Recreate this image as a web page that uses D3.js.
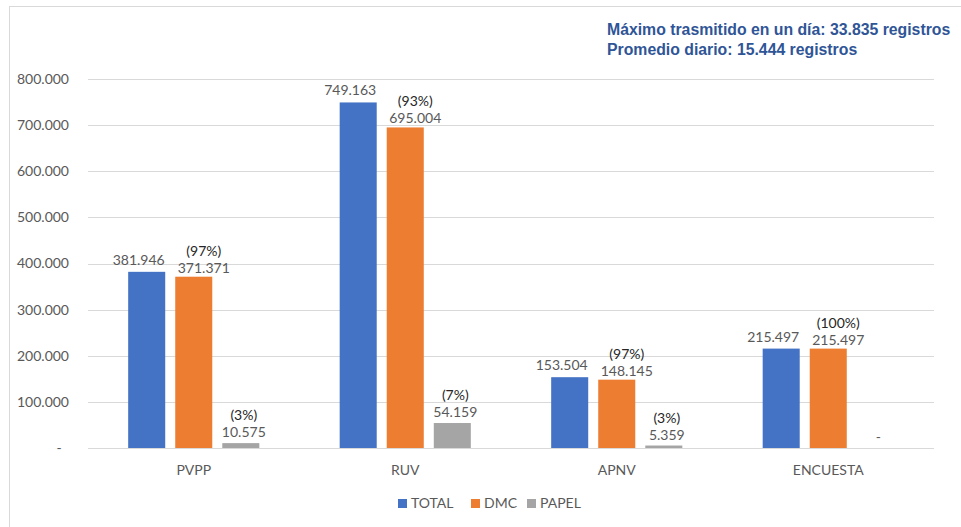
<!DOCTYPE html>
<html><head><meta charset="utf-8">
<script src="https://cdn.jsdelivr.net/npm/d3@7"></script>
<style>body{margin:0;background:#fff}svg{display:block}</style>
</head><body>
<svg id="c" width="961" height="527"></svg>
<script>
const categories = ["PVPP", "RUV", "APNV", "ENCUESTA"];
const seriesNames = ["TOTAL", "DMC", "PAPEL"];
const totalValues = [381946, 749163, 153504, 215497];
const dmcValues = [371371, 695004, 148145, 215497];
const papelValues = [10575, 54159, 5359, 0];
const dmcPercent = ["(97%)", "(93%)", "(97%)", "(100%)"];
const papelPercent = ["(3%)", "(7%)", "(3%)", ""];
const yTicks = [0, 100000, 200000, 300000, 400000, 500000, 600000, 700000, 800000];
const noteLines = ["Máximo trasmitido en un día: 33.835 registros", "Promedio diario: 15.444 registros"];

(function () {
const colors = {TOTAL: "#4472C4", DMC: "#ED7D31", PAPEL: "#A5A5A5"};
const labelDx = {TOTAL: -8, DMC: 10, PAPEL: 3};
const labelGap = {TOTAL: 7, DMC: 4, PAPEL: 6};
const pctBySeries = {TOTAL: null, DMC: dmcPercent, PAPEL: papelPercent};
const valsBySeries = {TOTAL: totalValues, DMC: dmcValues, PAPEL: papelValues};

const loc = d3.formatLocale({decimal: ",", thousands: ".", grouping: [3], currency: ["", ""]});
const fmt = loc.format(",d");

const svg = d3.select("#c");
const font = "Lato, 'Open Sans', sans-serif";
const gray = "#595959";

// frame
svg.append("rect").attr("x", 9.5).attr("y", 6.5).attr("width", 1200).attr("height", 1200)
  .attr("fill", "none").attr("stroke", "#d9d9d9");

const pLeft = 88, pRight = 934, pTop = 79, pBottom = 448;
const x0 = d3.scaleBand().domain(categories).range([pLeft, pRight]).padding(0);
const groupW = x0.bandwidth() * 0.62;
const x1 = d3.scaleBand().domain(seriesNames)
  .range([(x0.bandwidth() - groupW) / 2, (x0.bandwidth() + groupW) / 2]).paddingInner(0.213);
const y = d3.scaleLinear().domain([0, 800000]).range([pBottom, pTop]);

// gridlines
svg.append("g").selectAll("line").data(yTicks).join("line")
  .attr("x1", pLeft).attr("x2", pRight)
  .attr("y1", d => Math.round(y(d)) + 0.5).attr("y2", d => Math.round(y(d)) + 0.5)
  .attr("stroke", "#d9d9d9").attr("stroke-width", 1);

// y labels
svg.append("g").selectAll("text").data(yTicks).join("text")
  .attr("x", d => d === 0 ? 59 : 69).attr("y", d => y(d)).attr("dy", "0.35em")
  .attr("text-anchor", d => d === 0 ? "middle" : "end")
  .attr("font-family", font).attr("font-size", 14).attr("fill", gray)
  .text(d => d === 0 ? "-" : fmt(d));

// bars
const rows = [];
categories.forEach((c, i) => seriesNames.forEach(s => rows.push({c, i, s, v: valsBySeries[s][i]})));
svg.append("g").selectAll("rect").data(rows.filter(d => d.v > 0)).join("rect")
  .attr("x", d => x0(d.c) + x1(d.s)).attr("width", x1.bandwidth())
  .attr("y", d => y(d.v)).attr("height", d => y(0) - y(d.v))
  .attr("fill", d => colors[d.s]);

// value labels
const lab = svg.append("g").attr("font-family", font).attr("font-size", 14).attr("fill", gray).attr("text-anchor", "middle");
rows.forEach(d => {
  const cx = x0(d.c) + x1(d.s) + x1.bandwidth() / 2 + labelDx[d.s];
  const by = y(d.v) - labelGap[d.s];
  lab.append("text").attr("x", cx).attr("y", by).text(d.v === 0 ? "-" : fmt(d.v));
  const p = pctBySeries[d.s];
  if (p && p[d.i]) {
    lab.append("text").attr("x", cx).attr("y", by - 17).attr("fill", "#262626").text(p[d.i]);
  }
});

// category labels
svg.append("g").selectAll("text").data(categories).join("text")
  .attr("x", d => x0(d) + x0.bandwidth() / 2).attr("y", 475)
  .attr("text-anchor", "middle").attr("font-family", font).attr("font-size", 14).attr("fill", gray)
  .text(d => d);

// legend
const legX = [398, 471, 527];
const lg = svg.append("g");
seriesNames.forEach((s, i) => {
  lg.append("rect").attr("x", legX[i]).attr("y", 499).attr("width", 9).attr("height", 9).attr("fill", colors[s]);
  lg.append("text").attr("x", legX[i] + 13).attr("y", 508).attr("font-family", font).attr("font-size", 14)
    .attr("fill", gray).text(s);
});

// note
svg.append("g").selectAll("text").data(noteLines).join("text")
  .attr("x", 607).attr("y", (d, i) => 35 + i * 20)
  .attr("font-family", "'Liberation Sans', Arial, sans-serif").attr("font-weight", "bold")
  .attr("font-size", 15.8).attr("fill", "#2F5597").text(d => d);
})();
</script>
</body></html>
